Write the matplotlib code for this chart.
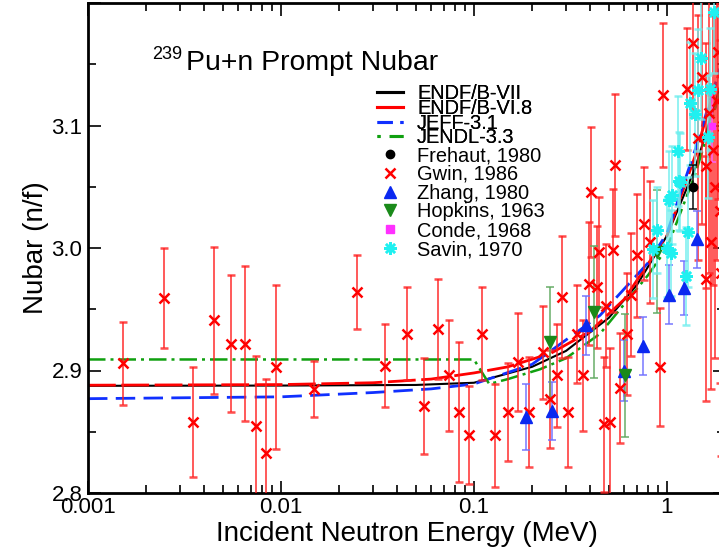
import matplotlib
matplotlib.use("Agg")
import matplotlib.pyplot as plt
from matplotlib.lines import Line2D
from matplotlib.ticker import FixedFormatter, FixedLocator, LogLocator, NullFormatter

plt.rcParams["font.family"] = ["Liberation Sans", "DejaVu Sans"]

# Evaluated prompt nubar, energy in MeV
ENDF7_E = [0.001, 0.01, 0.05, 0.1, 0.2, 0.3, 0.5, 0.7, 1.0, 1.4, 2.0]
ENDF7_NU = [2.8875, 2.8877, 2.8882, 2.890, 2.903, 2.916, 2.943, 2.970, 3.010, 3.065, 3.145]

ENDF68_E = [0.001, 0.01, 0.03, 0.06, 0.1, 0.15, 0.25, 0.4, 0.6, 1.0, 1.4, 2.0]
ENDF68_NU = [2.8880, 2.8885, 2.890, 2.893, 2.898, 2.903, 2.914, 2.932, 2.958, 3.010, 3.075, 3.160]

JEFF_E = [0.001, 0.01, 0.03, 0.06, 0.1, 0.2, 0.3, 0.45, 0.8, 1.0, 1.4, 2.0]
JEFF_NU = [2.877, 2.8785, 2.882, 2.885, 2.889, 2.905, 2.925, 2.945, 2.988, 3.012, 3.080, 3.160]

JENDL_E = [0.001, 0.01, 0.1, 0.12, 0.15, 0.22, 0.3, 0.45, 0.8, 1.0, 1.4, 2.0]
JENDL_NU = [2.909, 2.909, 2.909, 2.889, 2.893, 2.901, 2.910, 2.930, 2.978, 3.000, 3.060, 3.140]

# Measurements: energy (MeV), nubar, 1-sigma uncertainty
GWIN_E = [0.00151, 0.00249, 0.00351, 0.00452, 0.0055, 0.0065, 0.00746, 0.0084, 0.00946,
          0.0149, 0.0247, 0.0348, 0.0451, 0.055, 0.0649, 0.074, 0.0839, 0.0946, 0.110,
          0.129, 0.150, 0.170, 0.192, 0.227, 0.248, 0.271, 0.287, 0.309, 0.344, 0.368,
          0.393, 0.403, 0.433, 0.446, 0.473, 0.481, 0.505, 0.525, 0.54, 0.572, 0.62,
          0.655, 0.70, 0.761, 0.82, 0.92, 0.955, 1.277, 1.36, 1.45, 1.52, 1.59, 1.6,
          1.65, 1.7, 1.74, 1.78, 1.82, 1.85, 1.88, 1.9, 1.95]
GWIN_NU = [2.906, 2.959, 2.858, 2.941, 2.922, 2.922, 2.855, 2.833, 2.903,
           2.885, 2.964, 2.904, 2.930, 2.871, 2.934, 2.896, 2.866, 2.847, 2.930,
           2.847, 2.866, 2.907, 2.866, 2.915, 2.877, 2.896, 2.960, 2.866, 2.930, 2.896,
           2.971, 3.046, 2.968, 2.997, 2.856, 2.953, 2.858, 2.998, 3.068, 2.886, 2.930,
           2.962, 2.994, 3.020, 3.005, 2.903, 3.125, 3.130, 3.167, 3.090, 3.140, 2.975, 3.067,
           3.110, 3.005, 3.080, 3.050, 3.120, 3.160, 3.030, 2.980, 3.100]
GWIN_ERR = [0.034, 0.041, 0.045, 0.060, 0.056, 0.063, 0.057, 0.060, 0.067,
            0.023, 0.030, 0.034, 0.038, 0.039, 0.041, 0.045, 0.057, 0.040, 0.038,
            0.042, 0.040, 0.040, 0.045, 0.038, 0.040, 0.042, 0.050, 0.045, 0.040, 0.045,
            0.050, 0.053, 0.050, 0.045, 0.055, 0.050, 0.060, 0.050, 0.058, 0.045, 0.050,
            0.050, 0.050, 0.046, 0.050, 0.048, 0.059, 0.050, 0.060, 0.100, 0.120, 0.100, 0.100,
            0.130, 0.120, 0.110, 0.140, 0.130, 0.120, 0.140, 0.150, 0.130]

ZHANG_E = [0.186, 0.254, 0.383, 0.60, 0.755, 1.03, 1.225, 1.426]
ZHANG_NU = [2.862, 2.867, 2.937, 2.900, 2.920, 2.962, 2.967, 3.007]
ZHANG_ERR = [0.027, 0.024, 0.024, 0.025, 0.024, 0.024, 0.022, 0.023]

HOPKINS_E = [0.248, 0.420, 0.603, 0.89]
HOPKINS_NU = [2.923, 2.948, 2.896, 2.997]
HOPKINS_ERR = [0.045, 0.054, 0.050, 0.050]

FREHAUT_E = [1.365]
FREHAUT_NU = [3.050]
FREHAUT_ERR = [0.018]

CONDE_E = [1.72]
CONDE_NU = [3.100]
CONDE_ERR = [0.030]

SAVIN_E = [0.85, 0.89, 1.0, 1.03, 1.05, 1.06, 1.146, 1.16, 1.17, 1.25, 1.28, 1.32,
           1.39, 1.45, 1.51, 1.64, 1.67, 1.75]
SAVIN_NU = [2.999, 3.015, 3.000, 3.039, 2.996, 3.043, 3.079, 3.055, 3.054, 2.977, 3.013, 3.118,
            3.109, 3.129, 3.155, 3.091, 3.130, 3.193]
SAVIN_ERR = [0.040, 0.035, 0.040, 0.040, 0.035, 0.040, 0.045, 0.040, 0.040, 0.040, 0.045, 0.050,
             0.050, 0.050, 0.050, 0.050, 0.050, 0.050]

X_TICKS = [0.001, 0.01, 0.1, 1]
X_TICK_LABELS = ["0.001", "0.01", "0.1", "1"]
Y_TICKS = [2.8, 2.9, 3.0, 3.1, 3.2]
Y_TICK_LABELS = ["2.8", "2.9", "3.0", "3.1", ""]
Y_MINOR = [2.85, 2.95, 3.05, 3.15]

W, H = 719, 553


def draw_points(ax, e, nu, err, ecolor, **kw):
    cont = ax.errorbar(e, nu, yerr=err, linestyle="none", ecolor=ecolor, elinewidth=1.3,
                       capsize=3.2, capthick=1.3, zorder=3, **kw)
    for cap in cont[1]:
        cap.set_alpha(0.8)
    for bar in cont[2]:
        bar.set_alpha(0.8)
    return cont


def main() -> None:
    fig = plt.figure(figsize=(W / 100, H / 100), dpi=100)
    ax = fig.add_axes([88 / W, 60 / H, 637 / W, 490 / H])

    curves = [
        (ENDF7_E, ENDF7_NU, dict(color="black", lw=1.5)),
        (ENDF68_E, ENDF68_NU, dict(color="red", lw=2.0, dashes=(10, 2))),
        (JEFF_E, JEFF_NU, dict(color="#1030ff", lw=2.0, dashes=(7, 3))),
        (JENDL_E, JENDL_NU, dict(color="#10a010", lw=1.8, dashes=(7, 2, 1.2, 2))),
    ]
    for e, nu, style in curves:
        ax.plot(e, nu, zorder=2, **style)

    draw_points(ax, GWIN_E, GWIN_NU, GWIN_ERR, "#ff2020", marker="x", color="red",
                ms=7, mew=1.8)
    draw_points(ax, ZHANG_E, ZHANG_NU, ZHANG_ERR, "#7070ff", marker="^", color="#0a28f0",
                ms=8)
    draw_points(ax, HOPKINS_E, HOPKINS_NU, HOPKINS_ERR, "#60a860", marker="v",
                color="#1a8a1a", ms=8)
    draw_points(ax, CONDE_E, CONDE_NU, CONDE_ERR, "#ff60ff", marker="s", color="#ff30ff",
                ms=5)
    draw_points(ax, SAVIN_E, SAVIN_NU, SAVIN_ERR, "#70eeee", marker=(8, 2, 0),
                color="#20f0f0", ms=9, mew=1.8)
    draw_points(ax, FREHAUT_E, FREHAUT_NU, FREHAUT_ERR, "black", marker="o", color="black",
                ms=6)

    ax.set_xscale("log")
    ax.set_xlim(0.001, 2.0)
    ax.set_ylim(2.8, 3.2)

    ax.xaxis.set_major_locator(FixedLocator(X_TICKS))
    ax.xaxis.set_major_formatter(FixedFormatter(X_TICK_LABELS))
    ax.xaxis.set_minor_locator(LogLocator(base=10, subs=range(2, 10)))
    ax.xaxis.set_minor_formatter(NullFormatter())
    ax.yaxis.set_major_locator(FixedLocator(Y_TICKS))
    ax.yaxis.set_major_formatter(FixedFormatter(Y_TICK_LABELS))
    ax.yaxis.set_minor_locator(FixedLocator(Y_MINOR))

    ax.tick_params(which="both", direction="in", top=True, right=True, width=1.2,
                   labelsize=16)
    ax.tick_params(which="major", length=9)
    ax.tick_params(which="minor", length=6)
    ax.tick_params(axis="x", pad=3)
    ax.tick_params(axis="y", pad=4)
    for spine in ax.spines.values():
        spine.set_linewidth(2.0)

    ax.set_xlabel("Incident Neutron Energy (MeV)", fontsize=20, labelpad=2)
    ax.set_ylabel("Nubar (n/f)", fontsize=20, labelpad=2)

    # title inside the frame, superscript mass number set by hand
    ax.text((152 - 88) / 637, (493 - 59) / 490, "239", transform=ax.transAxes,
            fontsize=13, va="baseline", ha="left")
    ax.text((186 - 88) / 637, (493 - 70) / 490, "Pu+n Prompt Nubar", transform=ax.transAxes,
            fontsize=20.4, va="baseline", ha="left")

    line_handles = [
        Line2D([], [], color="black", lw=2.2),
        Line2D([], [], color="red", lw=2.2),
        Line2D([], [], color="#1030ff", lw=2.2, dashes=(5, 2.5, 1, 2.5)),
        Line2D([], [], color="#10a010", lw=2.2, dashes=(1, 3, 5, 2)),
    ]
    line_labels = ["ENDF/B-VII", "ENDF/B-VI.8", "JEFF-3.1", "JENDL-3.3"]
    mark_handles = [
        Line2D([], [], ls="none", marker="o", color="black", ms=6),
        Line2D([], [], ls="none", marker="x", color="red", ms=7, mew=1.8),
        Line2D([], [], ls="none", marker="^", color="#0a28f0", ms=8),
        Line2D([], [], ls="none", marker="v", color="#1a8a1a", ms=8),
        Line2D([], [], ls="none", marker="s", color="#ff30ff", ms=6),
        Line2D([], [], ls="none", marker=(8, 2, 0), color="#20f0f0", ms=9, mew=1.8),
    ]
    mark_labels = ["Frehaut, 1980", "Gwin, 1986", "Zhang, 1980", "Hopkins, 1963",
                   "Conde, 1968", "Savin, 1970"]

    common = dict(loc="upper left", bbox_transform=fig.transFigure, frameon=False,
                  fontsize=14.4, handlelength=1.3, handletextpad=0.7, borderpad=0,
                  borderaxespad=0)
    leg1 = fig.legend(line_handles, line_labels, bbox_to_anchor=(377 / W, 1 - 84 / H),
                      labelspacing=-0.21, **common)
    fig.legend(mark_handles, mark_labels, bbox_to_anchor=(377 / W, 1 - 146 / H),
               labelspacing=-0.01, **common)
    fig.add_artist(leg1)

    fig.savefig("out.png", dpi=100)


if __name__ == "__main__":
    main()
